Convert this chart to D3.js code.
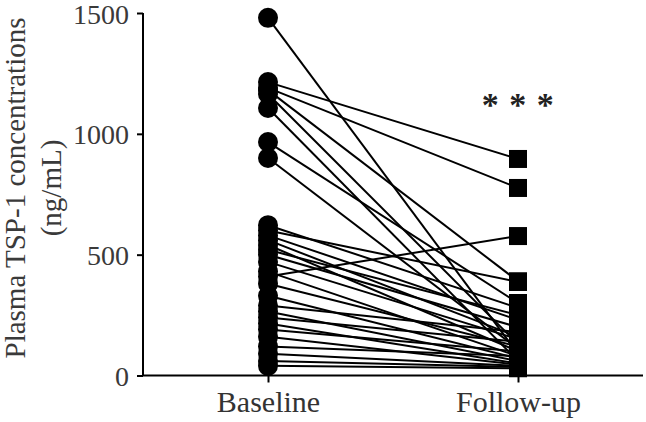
<!DOCTYPE html>
<html>
<head>
<meta charset="utf-8">
<script src="https://cdn.jsdelivr.net/npm/d3@7"></script>
<style>
  body { margin: 0; background: #fff; }
  svg { display: block; }
  text { font-family: "Liberation Serif", "Times New Roman", serif; }
</style>
</head>
<body>
<svg id="chart" width="646" height="422"></svg>
<script>
// groups on the x axis
const groups = ["Baseline", "Follow-up"];
// paired values per subject (ng/mL)
const baseline = [1480, 1214, 1190, 1181, 1165, 1107, 966, 900, 622, 600, 580, 560, 540, 520, 500,
                  470, 430, 410, 380, 330, 290, 265, 240, 215, 190, 160, 120, 90, 60, 40];
const followUp = [90, 896, 776, 390, 130, 60, 300, 110, 280, 387, 230, 160, 100, 250, 200,
                  150, 80, 577, 120, 70, 180, 60, 140, 50, 100, 45, 80, 40, 35, 30];
const yTicks = [0, 500, 1000, 1500];

const svg = d3.select("#chart");

const x = d3.scalePoint().domain(groups).range([143, 643]).padding(0.5);
const y = d3.scaleLinear().domain([0, 1500]).range([375.5, 13]);

const pairs = baseline.map((b, i) => ({ b: b, f: followUp[i] }));

// connecting lines
svg.append("g")
  .selectAll("line")
  .data(pairs)
  .join("line")
  .attr("x1", x("Baseline"))
  .attr("y1", d => y(d.b))
  .attr("x2", x("Follow-up"))
  .attr("y2", d => y(d.f))
  .attr("stroke", "#000")
  .attr("stroke-width", 2);

// baseline circles
svg.append("g")
  .selectAll("circle")
  .data(pairs)
  .join("circle")
  .attr("cx", x("Baseline"))
  .attr("cy", d => y(d.b))
  .attr("r", 10)
  .attr("fill", "#000");

// follow-up squares
const sq = 18;
svg.append("g")
  .selectAll("rect")
  .data(pairs)
  .join("rect")
  .attr("x", x("Follow-up") - sq / 2)
  .attr("y", d => y(d.f) - sq / 2)
  .attr("width", sq)
  .attr("height", sq)
  .attr("fill", "#000");

// y axis
const yAxis = svg.append("g")
  .attr("transform", "translate(143,0)")
  .call(d3.axisLeft(y).tickValues(yTicks).tickSize(6).tickPadding(8).tickFormat(d3.format("d")));
yAxis.select(".domain").attr("stroke", "#000").attr("stroke-width", 2).attr("d", "M0,13V375.5");
yAxis.selectAll(".tick line").attr("stroke", "#000").attr("stroke-width", 2);
yAxis.selectAll(".tick text")
  .attr("font-family", "Liberation Serif")
  .attr("font-size", 28)
  .attr("fill", "#3a3a3a")
  .attr("dy", "0.36em");

// x axis
const xAxis = svg.append("g")
  .attr("transform", "translate(0,375.5)")
  .call(d3.axisBottom(x).tickSize(7).tickPadding(8));
xAxis.select(".domain").attr("stroke", "#000").attr("stroke-width", 2).attr("d", "M142,0H643");
xAxis.selectAll(".tick line").attr("stroke", "#000").attr("stroke-width", 2);
xAxis.selectAll(".tick text")
  .attr("font-family", "Liberation Serif")
  .attr("font-size", 30)
  .attr("fill", "#333");

// y axis title
const title = svg.append("text")
  .attr("transform", "translate(0,188) rotate(-90)")
  .attr("text-anchor", "middle")
  .attr("font-size", 29)
  .attr("fill", "#3a3a3a");
title.append("tspan").attr("x", 0).attr("y", 25).text("Plasma TSP-1 concentrations");
title.append("tspan").attr("x", 0).attr("y", 61).text("(ng/mL)");

// significance mark
svg.append("text")
  .attr("x", x("Follow-up") + 5)
  .attr("y", 116)
  .attr("text-anchor", "middle")
  .attr("font-family", "Liberation Sans, Arial, sans-serif")
  .attr("font-size", 34)
  .attr("font-weight", "bold")
  .attr("letter-spacing", 10.5)
  .attr("fill", "#222")
  .text("***");
</script>
</body>
</html>
